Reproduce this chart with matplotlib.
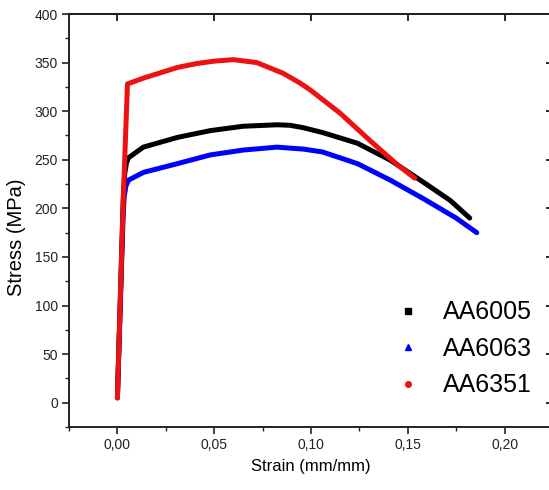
"""Engineering stress-strain curves for three 6xxx aluminium alloys."""
import matplotlib

matplotlib.use("Agg")
import matplotlib.pyplot as plt  # noqa: E402
from matplotlib.lines import Line2D  # noqa: E402
from matplotlib.ticker import FuncFormatter, MultipleLocator  # noqa: E402

plt.rcParams["font.family"] = ["Liberation Sans", "DejaVu Sans"]

# strain (mm/mm) and stress (MPa) per alloy
aa6005_strain = [0.0, 0.003, 0.0038, 0.0047, 0.0057, 0.0134, 0.031, 0.048, 0.065,
                 0.0825, 0.089, 0.096, 0.106, 0.124, 0.141, 0.158, 0.172, 0.182]
aa6005_stress = [5, 208, 236, 247, 252, 263, 273, 280, 284.5,
                 286, 285.5, 283, 278, 267, 249.5, 227, 208, 190]

aa6063_strain = [0.0, 0.003, 0.0035, 0.0044, 0.0057, 0.0134, 0.031, 0.048, 0.065,
                 0.0825, 0.089, 0.096, 0.106, 0.124, 0.141, 0.158, 0.175, 0.1856]
aa6063_stress = [5, 195, 212, 223, 229, 237, 246, 255, 260,
                 263, 262, 261, 258, 246, 229, 210, 190, 175]

aa6351_strain = [0.0, 0.003, 0.0052, 0.0134, 0.031, 0.041, 0.050, 0.060, 0.072,
                 0.0856, 0.0943, 0.0995, 0.115, 0.132, 0.144, 0.1536]
aa6351_stress = [5, 208, 328, 334, 345, 349, 351.5, 353, 350,
                 339, 329, 322, 298, 267, 246, 231]

labels = ["AA6005", "AA6063", "AA6351"]
colors = ["#000000", "#0000ff", "#ee1111"]
markers = ["s", "^", "o"]

fig = plt.figure(figsize=(5.49, 4.90), dpi=100)
ax = fig.add_axes([69 / 549, 63 / 490, 484 / 549, 413 / 490])

# red drawn last so it sits over the shared elastic segment
ax.plot(aa6063_strain, aa6063_stress, color=colors[1], lw=3.6,
        solid_capstyle="round", solid_joinstyle="round")
ax.plot(aa6005_strain, aa6005_stress, color=colors[0], lw=3.6,
        solid_capstyle="round", solid_joinstyle="round")
ax.plot(aa6351_strain, aa6351_stress, color=colors[2], lw=3.6,
        solid_capstyle="round", solid_joinstyle="round")

ax.set_xlim(-0.025, 0.225)
ax.set_ylim(-25, 400)

ax.xaxis.set_major_locator(MultipleLocator(0.05))
ax.xaxis.set_minor_locator(MultipleLocator(0.025))
ax.yaxis.set_major_locator(MultipleLocator(50))
ax.yaxis.set_minor_locator(MultipleLocator(25))
ax.xaxis.set_major_formatter(FuncFormatter(lambda v, _: f"{v:.2f}".replace(".", ",")))
ax.yaxis.set_major_formatter(FuncFormatter(lambda v, _: f"{v:.0f}"))

ax.tick_params(which="major", direction="out", length=5, width=1.2,
               labelsize=10, colors="#222222", pad=3)
ax.tick_params(which="minor", direction="out", length=3, width=1.0, colors="#222222")
ax.tick_params(which="minor", top=False, right=False)

# mirrored major ticks on top/right, pointing inward, no labels
top = ax.secondary_xaxis("top")
top.set_xticks(ax.get_xticks())
top.tick_params(direction="in", length=5, width=1.2, labeltop=False)
right = ax.secondary_yaxis("right")
right.set_yticks(ax.get_yticks())
right.tick_params(direction="in", length=5, width=1.2, labelright=False)

for s in ax.spines.values():
    s.set_linewidth(1.4)
    s.set_color("#222222")
top.spines["top"].set_linewidth(1.4)
right.spines["right"].set_linewidth(1.4)

ax.set_xlabel("Strain (mm/mm)", fontsize=12, labelpad=5)
ax.set_ylabel("Stress (MPa)", fontsize=14.5)
ax.yaxis.set_label_coords(-0.089, 0.46)

handles = [Line2D([], [], ls="none", marker=m, color=c, markersize=4)
           for m, c in zip(markers, colors)]
ax.legend(handles, labels, loc="lower right", bbox_to_anchor=(1.003, 0.017),
          frameon=False, fontsize=18, handletextpad=0.8, labelspacing=0.5,
          handlelength=1.2)

fig.savefig("out.png", dpi=100)
